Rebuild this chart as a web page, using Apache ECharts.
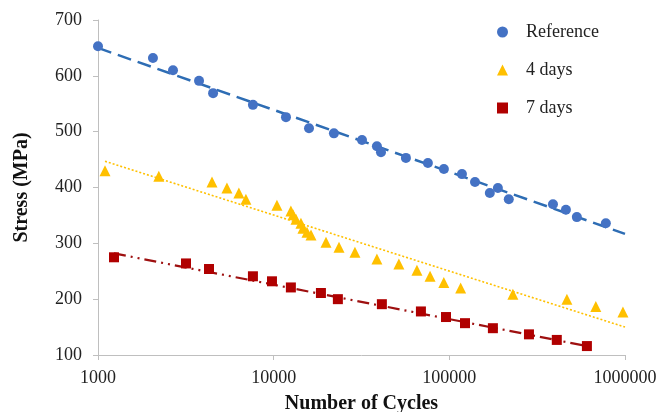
<!DOCTYPE html>
<html>
<head>
<meta charset="utf-8">
<script src="https://cdn.jsdelivr.net/npm/echarts@6/dist/echarts.min.js"></script>
<style>
  html, body { margin: 0; padding: 0; background: #fff; }
  #main { width: 659px; height: 412px; }
</style>
</head>
<body>
<div id="main"></div>
<script>
// reference specimens
var refCycles = [1000, 2055, 2673, 3760, 4520, 7620, 11750, 15890, 22030, 31830, 38700, 40830,
  56600, 75500, 93100, 118000, 140000, 170000, 189000, 218000, 389000, 461000, 532000, 778000];
var refStress = [653, 632, 610, 591, 569, 548, 526, 506, 497, 485, 474, 463,
  453, 444, 433, 424, 410, 390, 399, 379, 370, 360, 347, 336];

// 4 days
var d4Cycles = [1096, 2220, 4455, 5420, 6340, 6950, 10440, 12530, 12900, 13400, 14300, 14680,
  15480, 16310, 19850, 23550, 29020, 38700, 51600, 65400, 77700, 93000, 116000, 230000,
  467000, 682000, 973000];
var d4Stress = [430, 420, 410, 399, 390, 379, 368, 358, 351, 343, 336, 327,
  320, 315, 302, 293, 284, 272, 263, 252, 241, 230, 220, 209,
  200, 187, 177];

// 7 days
var d7Cycles = [1233, 3170, 4285, 7620, 9780, 12530, 18580, 23200, 41300, 68900, 95700,
  122800, 177000, 284000, 409000, 607000];
var d7Stress = [275, 264, 254, 241, 232, 221, 211, 200, 191, 178, 168,
  157, 148, 137, 127, 116];

// trend lines (end points)
var refTrendX = [1000, 1000000];
var refTrendY = [650, 317];
var d4TrendX = [1096, 1000000];
var d4TrendY = [447, 150];
var d7TrendX = [1233, 607000];
var d7TrendY = [282, 116];

var yTicks = [100, 700, 100]; // min, max, step

function pairs(xs, ys) {
  return xs.map(function (x, i) { return [x, ys[i]]; });
}

var serif = 'Liberation Serif';
var axisGrey = '#bfbfbf';
var blue = '#4472C4';
var gold = '#FFC000';
var red = '#B00000';

var chart = echarts.init(document.getElementById('main'));
chart.setOption({
  animation: false,
  grid: { left: 98, right: 34, top: 20, bottom: 57, containLabel: false, outerBoundsMode: 'none' },
  legend: {
    orient: 'vertical',
    left: 492,
    top: 18,
    itemWidth: 11,
    itemHeight: 11,
    itemGap: 20,
    textStyle: { fontFamily: serif, fontSize: 18, color: '#222', padding: [0, 0, 0, 13] },
    data: [
      { name: 'Reference', icon: 'circle' },
      { name: '4 days', icon: 'triangle' },
      { name: '7 days', icon: 'rect' }
    ]
  },
  xAxis: {
    type: 'log',
    logBase: 10,
    min: 1000,
    max: 1000000,
    name: 'Number of Cycles',
    nameLocation: 'middle',
    nameGap: 39,
    nameTextStyle: { fontFamily: serif, fontSize: 20, fontWeight: 'bold', color: '#111' },
    axisLine: { lineStyle: { color: axisGrey, width: 1 } },
    axisTick: { show: true, length: 5, lineStyle: { color: axisGrey } },
    splitLine: { show: false },
    minorTick: { show: false },
    axisLabel: {
      fontFamily: serif, fontSize: 18, color: '#222', margin: 14,
      formatter: function (v) { return String(Math.round(v)); }
    }
  },
  yAxis: {
    type: 'value',
    min: yTicks[0],
    max: yTicks[1],
    interval: yTicks[2],
    name: 'Stress (MPa)',
    nameLocation: 'middle',
    nameGap: 66,
    nameTextStyle: { fontFamily: serif, fontSize: 20, fontWeight: 'bold', color: '#111' },
    axisLine: { show: true, lineStyle: { color: axisGrey, width: 1 } },
    axisTick: { show: true, length: 5, lineStyle: { color: axisGrey } },
    splitLine: { show: false },
    axisLabel: { fontFamily: serif, fontSize: 18, color: '#222', margin: 16 }
  },
  series: [
    {
      name: 'Reference trend', type: 'line', data: pairs(refTrendX, refTrendY),
      symbol: 'none', silent: true, z: 1,
      lineStyle: { color: '#2E6DB4', width: 2.5, type: [14, 7] }
    },
    {
      name: '4 days trend', type: 'line', data: pairs(d4TrendX, d4TrendY),
      symbol: 'none', silent: true, z: 1,
      lineStyle: { color: gold, width: 1.6, type: [2, 2] }
    },
    {
      name: '7 days trend', type: 'line', data: pairs(d7TrendX, d7TrendY),
      symbol: 'none', silent: true, z: 1,
      lineStyle: { color: '#9E1010', width: 2.2, type: [12, 5, 2, 5, 2, 5] }
    },
    {
      name: 'Reference', type: 'scatter', data: pairs(refCycles, refStress),
      symbol: 'circle', symbolSize: 10, z: 3,
      itemStyle: { color: blue, opacity: 1 }
    },
    {
      name: '4 days', type: 'scatter', data: pairs(d4Cycles, d4Stress),
      symbol: 'triangle', symbolSize: 11, z: 3,
      itemStyle: { color: gold, opacity: 1 }
    },
    {
      name: '7 days', type: 'scatter', data: pairs(d7Cycles, d7Stress),
      symbol: 'rect', symbolSize: 10, z: 3,
      itemStyle: { color: red, opacity: 1 }
    }
  ]
});
</script>
</body>
</html>
